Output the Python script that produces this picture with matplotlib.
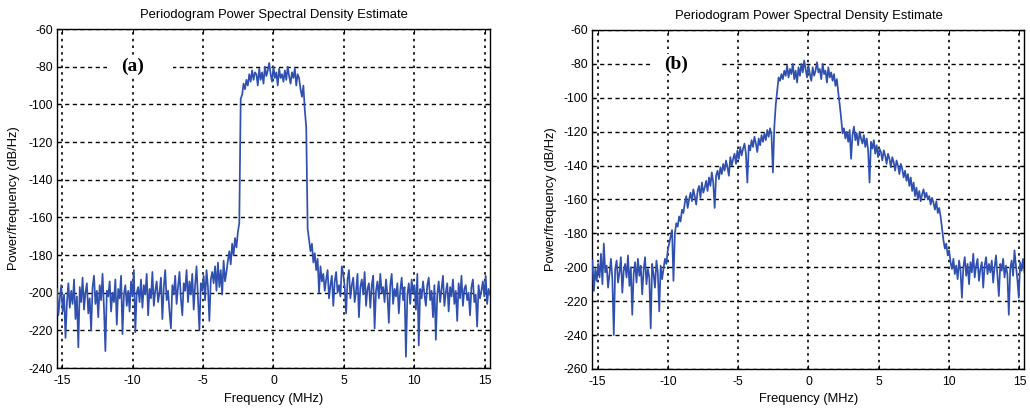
import numpy as np
import matplotlib
matplotlib.use("Agg")
import matplotlib.pyplot as plt
from matplotlib.patches import Rectangle

plt.rcParams['font.family'] = ['Liberation Sans', 'DejaVu Sans']
plt.rcParams['axes.unicode_minus'] = False

# PSD traces, one value per ~0.1 MHz bin across the band (dB/Hz)
psd_a = [
    -198, -212, -203, -196, -210, -201, -224, -205, -195, -208,
    -199, -206, -193, -214, -202, -229, -197, -205, -192, -209,
    -200, -195, -211, -203, -220, -197, -191, -206, -199, -213,
    -196, -204, -190, -208, -231, -199, -202, -194, -210, -200,
    -205, -193, -217, -198, -203, -191, -222, -201, -196, -207,
    -199, -210, -194, -202, -188, -221, -200, -197, -205, -193,
    -208, -196, -201, -190, -212, -198, -203, -189, -207, -199,
    -194, -205, -200, -192, -214, -197, -188, -204, -199, -210,
    -219, -196, -201, -191, -206, -197, -189, -203, -212, -195,
    -199, -188, -205, -194, -201, -190, -209, -196, -186, -203,
    -220, -195, -199, -191, -204, -188, -197, -215, -193, -189,
    -195, -186, -199, -184, -197, -188, -201, -183, -194, -189,
    -183, -178, -185, -174, -180, -171, -176, -168, -163, -97,
    -95, -89, -92, -87, -90, -84, -88, -82, -87, -83,
    -84, -90, -81, -87, -83, -89, -80, -85, -82, -78,
    -84, -88, -80, -86, -83, -90, -81, -86, -84, -88,
    -82, -87, -80, -85, -89, -83, -86, -81, -90, -84,
    -86, -92, -96, -90, -103, -112, -166, -172, -178, -174,
    -184, -179, -188, -182, -200, -186, -194, -190, -199, -193,
    -188, -203, -196, -191, -207, -194, -189, -200, -196, -202,
    -186, -190, -197, -211, -193, -188, -203, -196, -192, -205,
    -199, -190, -213, -197, -193, -201, -189, -207, -198, -195,
    -208, -196, -191, -219, -199, -194, -203, -190, -200, -197,
    -205, -193, -201, -216, -196, -190, -206, -198, -202, -195,
    -211, -199, -192, -204, -197, -234, -201, -195, -206, -193,
    -200, -196, -209, -190, -228, -198, -203, -194, -201, -207,
    -196, -192, -204, -199, -213, -196, -225, -201, -194, -205,
    -198, -191, -207, -200, -195, -210, -197, -202, -193, -206,
    -199, -215, -195, -203, -191, -207, -198, -196, -204, -200,
    -212, -197, -193, -205, -201, -218, -196, -203, -199, -194,
    -202, -191, -206, -198, -201,
]

psd_b = [
    -196, -214, -201, -208, -198, -206, -192, -210, -186, -203,
    -199, -212, -204, -195, -207, -240, -201, -196, -209, -203,
    -194, -215, -202, -198, -206, -193, -211, -200, -228, -204,
    -197, -209, -195, -205, -199, -216, -202, -194, -210, -201,
    -206, -236, -198, -204, -212, -196, -203, -226, -199, -207,
    -201, -195, -198, -190, -186, -182, -178, -208, -180, -174,
    -176, -170, -173, -166, -168, -162, -158, -165, -160, -156,
    -161, -154, -158, -163, -155, -152, -159, -150, -156, -153,
    -149, -155, -147, -152, -144, -150, -165, -146, -143, -148,
    -141, -145, -139, -143, -137, -141, -146, -135, -140, -136,
    -133, -139, -131, -136, -129, -134, -130, -127, -133, -150,
    -128, -131, -125, -129, -123, -127, -132, -124, -128, -122,
    -126, -121, -125, -119, -123, -118, -122, -144, -117, -104,
    -96, -88, -90, -86, -89, -84, -87, -81, -88, -83,
    -86, -80, -89, -84, -91, -82, -87, -80, -85, -78,
    -83, -88, -81, -86, -90, -82, -87, -84, -79, -85,
    -83, -89, -80, -86, -84, -91, -82, -88, -85, -90,
    -86, -93, -89, -97, -104, -112, -121, -118, -124, -120,
    -126, -119, -136, -122, -117, -125, -121, -128, -120, -124,
    -127, -122, -129, -124, -131, -150, -126, -130, -125, -133,
    -128, -135, -130, -132, -137, -131, -134, -139, -133, -136,
    -141, -135, -138, -143, -137, -140, -145, -139, -142, -147,
    -143, -149, -145, -152, -147, -155, -150, -158, -153, -160,
    -155, -161, -157, -154, -159, -156, -160, -158, -163, -159,
    -162, -166, -161, -168, -165, -170, -177, -184, -189, -186,
    -193, -190, -197, -201, -195, -204, -199, -207, -196, -202,
    -218, -200, -194, -205, -198, -210, -197, -203, -192, -206,
    -199, -195, -208, -201, -197, -212, -199, -194, -204, -198,
    -203, -196, -209, -200, -193, -205, -217, -198, -202, -195,
    -206, -199, -204, -228, -201, -196, -205, -190, -199, -207,
    -218, -197, -202, -195, -203,
]

fs_half = 15.36  # half of the 30.72 MHz sample rate
x_ticks = [-15, -10, -5, 0, 5, 10, 15]
panels = [
    dict(psd=psd_a, ylim=(-240, -60), tag='(a)', tag_x=-10.0, gap=(-11.8, -7.1),
         rect=[0.0553, 0.098, 0.4204, 0.8309], ylab_x=0.0194),
    dict(psd=psd_b, ylim=(-260, -60), tag='(b)', tag_x=-9.4, gap=(-11.25, -6.3),
         rect=[0.5752, 0.0956, 0.4194, 0.8309], ylab_x=0.541),
]

fig = plt.figure(figsize=(10.3, 4.08), dpi=100)
line_color = '#3050b0'

for p in panels:
    ax = fig.add_axes(p['rect'])
    freq = np.linspace(-fs_half, fs_half, len(p['psd']))
    ax.plot(freq, p['psd'], color=line_color, lw=1.25, zorder=3)

    ax.set_xlim(-fs_half, fs_half)
    ax.set_ylim(*p['ylim'])
    ax.set_xticks(x_ticks)
    ax.set_yticks(np.arange(p['ylim'][0], p['ylim'][1] + 1, 20))
    ax.set_axisbelow(True)
    ax.grid(axis='y', color='black', linestyle=(0, (3, 2.5)), lw=1.0)
    ax.grid(axis='x', color='black', linestyle=(0, (1.5, 2.5)), lw=1.2)
    ax.tick_params(direction='in', top=True, right=True, length=3,
                   labelsize=8.8)
    ax.tick_params(axis='x', pad=5)
    ax.tick_params(axis='y', pad=3)
    for s in ax.spines.values():
        s.set_linewidth(1.0)

    ax.set_title('Periodogram Power Spectral Density Estimate', fontsize=9.4, pad=8)
    ax.set_xlabel('Frequency (MHz)', fontsize=9.3, labelpad=4)
    ax.set_ylabel('Power/frequency (dB/Hz)', fontsize=9.3)
    ax.yaxis.set_label_coords((p['ylab_x'] - p['rect'][0]) / p['rect'][2], 0.5)

    # blank the -80 dB grid line behind the panel tag
    g0, g1 = p['gap']
    ax.add_patch(Rectangle((g0, -82), g1 - g0, 4, facecolor='white',
                           edgecolor='none', zorder=2))
    ax.text(p['tag_x'], -80, p['tag'], ha='center', va='center', fontsize=14,
            fontweight='bold', family=['Liberation Serif', 'DejaVu Serif'],
            zorder=4, bbox=dict(facecolor='white', edgecolor='none', pad=1))

fig.savefig('out.png', dpi=100)
